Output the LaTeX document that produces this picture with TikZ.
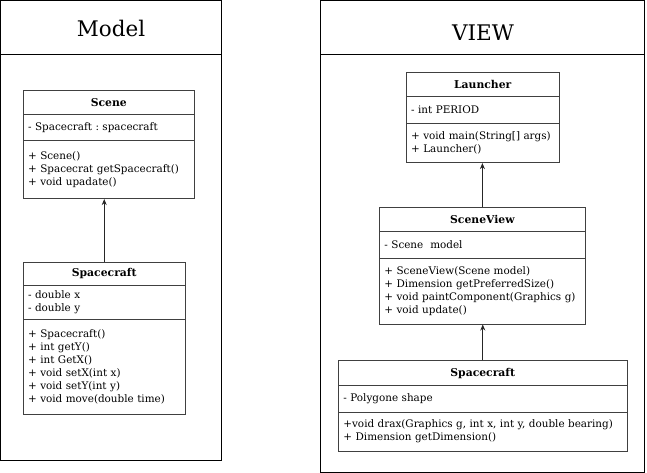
\documentclass[tikz,border=0pt]{standalone}
\usepackage{fontspec}
\setmainfont{DejaVu Serif}
\usetikzlibrary{arrows.meta}
\frenchspacing
\tikzset{
  frame/.style={draw=black, line width=0.8pt, anchor=north west, inner sep=0pt},
  bigtitle/.style={font=\fontsize{21.5}{24}\selectfont, inner sep=0pt},
  part/.style={draw=black!75, line width=0.8pt, anchor=north west, inner xsep=5pt, inner ysep=0pt,
    font=\fontsize{10.4}{13}\selectfont\frenchspacing},
  ttl/.style={part, font=\fontsize{10.8}{13}\selectfont\bfseries, align=center},
  cmp/.style={part, align=left},
  arr/.style={-{Stealth[length=6pt,width=5pt]}, line width=0.8pt, draw=black!85},
}
\begin{document}
\begin{tikzpicture}[x=1pt,y=-1pt]
\useasboundingbox (0,0) rectangle (647,473);
% Model package
\node[frame, minimum width=221pt, minimum height=54pt] (modelhead) at (0.4,0.4) {};
\node[frame, minimum width=221pt, minimum height=406pt] (modelbody) at (0.4,54.4) {};
\node[bigtitle] (modeltitle) at (111,28) {Model};
% View package
\node[frame, minimum width=324pt, minimum height=54pt] (viewhead) at (320.3,0.4) {};
\node[frame, minimum width=324pt, minimum height=417.3pt] (viewbody) at (320.3,54.4) {};
\node[bigtitle] (viewtitle) at (483,33) {VIEW};
% Scene
\node[ttl, text width=161.3pt, minimum height=24pt] (scene-t) at (22.7,90.3) {Scene};
\node[cmp, text width=161.3pt, minimum height=26pt] (scene-a) at (22.7,114.3) {- Spacecraft : spacecraft};
\node[cmp, text width=161.3pt, minimum height=58pt] (scene-m) at (22.7,140.3) {+ Scene()\\+ Spacecrat getSpacecraft()\\+ void upadate()};
% Spacecraft (model)
\node[ttl, text width=152.3pt, minimum height=23.3pt] (msc-t) at (22.7,261.7) {Spacecraft};
\node[cmp, text width=152.3pt, minimum height=34.3pt] (msc-a) at (22.7,285) {- double x\\- double y};
\node[cmp, text width=152.3pt, minimum height=95pt] (msc-m) at (22.7,319.3) {+ Spacecraft()\\+ int getY()\\+ int GetX()\\+ void setX(int x)\\+ void setY(int y)\\+ void move(double time)};
% Launcher
\node[ttl, text width=143.3pt, minimum height=24pt] (la-t) at (405.7,72.3) {Launcher};
\node[cmp, text width=143.3pt, minimum height=26.7pt] (la-a) at (405.7,96.3) {- int PERIOD};
\node[cmp, text width=143.3pt, minimum height=39.3pt] (la-m) at (405.7,123) {+ void main(String[] args)\\+ Launcher()};
% SceneView
\node[ttl, text width=196pt, minimum height=23.7pt] (sv-t) at (379,207.3) {SceneView};
\node[cmp, text width=196pt, minimum height=26.7pt] (sv-a) at (379,231) {- Scene\ \ model};
\node[cmp, text width=196pt, minimum height=66pt] (sv-m) at (379,257.7) {+ SceneView(Scene model)\\+ Dimension getPreferredSize()\\+ void paintComponent(Graphics g)\\+ void update()};
% Spacecraft (view)
\node[ttl, text width=278.7pt, minimum height=24.7pt] (vsc-t) at (338,360.3) {Spacecraft};
\node[cmp, text width=278.7pt, minimum height=26.7pt] (vsc-a) at (338,385) {- Polygone shape};
\node[cmp, text width=278.7pt, minimum height=39pt] (vsc-m) at (338,411.7) {+void drax(Graphics g, int x, int y, double bearing)\\+ Dimension getDimension()};
% connectors
\draw[arr] (msc-t.north) -- (msc-t.north |- scene-m.south);
\draw[arr] (sv-t.north) -- (sv-t.north |- la-m.south);
\draw[arr] (vsc-t.north) -- (vsc-t.north |- sv-m.south);
\end{tikzpicture}
\end{document}
